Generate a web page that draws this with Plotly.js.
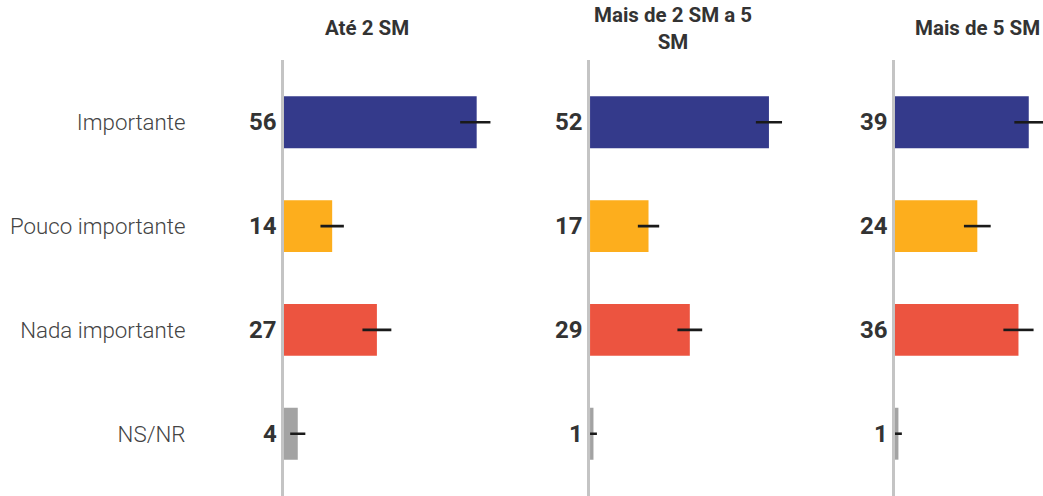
<!DOCTYPE html>
<html>
<head>
<meta charset="utf-8">
<script src="https://cdn.plot.ly/plotly-3.0.1.min.js"></script>
<style>html,body{margin:0;padding:0;background:#fff;}#chart{width:1043px;height:496px;}</style>
</head>
<body>
<div id="chart"></div>
<script>
const categories = ["Importante", "Pouco importante", "Nada importante", "NS/NR"];
const panels = ["Até 2 SM", "Mais de 2 SM a 5<br>SM", "Mais de 5 SM"];
const valuesAte2 = [56, 14, 27, 4];
const values2a5 = [52, 17, 29, 1];
const valuesMais5 = [39, 24, 36, 1];
const errAte2 = [4.8, 3.4, 4.2, 2.2];
const err2a5 = [3.8, 3.1, 3.6, 1.0];
const errMais5 = [4.2, 3.9, 4.4, 1.0];
const colors = ["#343a8b", "#fdae1d", "#ec5440", "#a3a3a3"];

const allValues = [valuesAte2, values2a5, valuesMais5];
const allErr = [errAte2, err2a5, errMais5];
const axisNames = ["", "2", "3"];
const domains = [[0, 0.272], [0.4032, 0.6752], [0.805, 1.0]];
const ranges = [[0, 60], [0, 60], [0, 43.15]];

const traces = [];
const annotations = [];
const layout = {
  width: 1043, height: 496,
  margin: {l: 284, r: 0, t: 60, b: 0},
  paper_bgcolor: "#ffffff", plot_bgcolor: "#ffffff",
  showlegend: false,
  font: {family: "Roboto, sans-serif", color: "#333333"}
};

for (let p = 0; p < 3; p++) {
  const xa = "x" + axisNames[p], ya = "y" + axisNames[p];
  traces.push({
    type: "bar", orientation: "h",
    x: allValues[p], y: categories,
    xaxis: xa, yaxis: ya,
    width: 0.5,
    marker: {color: colors, line: {width: 0}},
    cliponaxis: false,
    error_x: {type: "data", array: allErr[p], visible: true, color: "#1a1a1a", thickness: 2.6, width: 0},
    hoverinfo: "skip"
  });
  layout["xaxis" + axisNames[p]] = {
    domain: domains[p], range: ranges[p], anchor: ya,
    showgrid: false, zeroline: false, showticklabels: false, showline: false, fixedrange: true
  };
  layout["yaxis" + axisNames[p]] = {
    anchor: xa, type: "category", categoryarray: categories,
    range: [3.6, -0.6], showgrid: false, zeroline: false,
    showline: true, linecolor: "#c4c4c4", linewidth: 3,
    showticklabels: p === 0,
    ticks: p === 0 ? "outside" : "", ticklen: 91, tickcolor: "rgba(0,0,0,0)",
    tickfont: {family: "Roboto, sans-serif", size: 22.3, color: "#444444", weight: 300},
    fixedrange: true
  };
  for (let i = 0; i < categories.length; i++) {
    annotations.push({
      xref: xa, yref: ya, x: 0, y: categories[i], text: String(allValues[p][i]),
      xanchor: "right", yanchor: "middle", xshift: -5, showarrow: false,
      font: {family: "Roboto, sans-serif", size: 24, color: "#333333", weight: 700}
    });
  }
  annotations.push({
    xref: xa, yref: "paper", x: 24, y: 1.0,
    yshift: p === 1 ? 31.5 : 32.5,
    text: "<b>" + panels[p] + "</b>", showarrow: false,
    xanchor: "center", yanchor: "middle",
    font: {family: "Roboto, sans-serif", size: 20.5, color: "#333333"}
  });
}
layout.annotations = annotations;
Plotly.newPlot("chart", traces, layout, {displayModeBar: false, staticPlot: true});
</script>
</body>
</html>
